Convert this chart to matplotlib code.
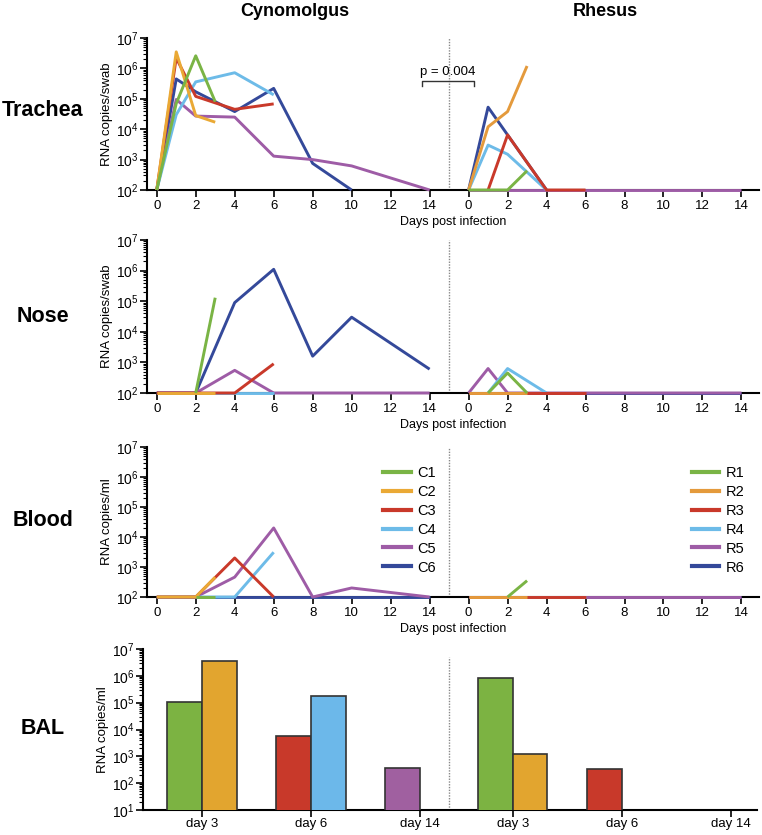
import numpy as np
import matplotlib
matplotlib.use('Agg')
import matplotlib.pyplot as plt
from matplotlib.ticker import FixedLocator, NullFormatter, LogFormatterSciNotation
from matplotlib.lines import Line2D

plt.rcParams['font.family'] = ['Liberation Sans', 'DejaVu Sans']
plt.rcParams['mathtext.default'] = 'regular'

cyno_labels = ['C1', 'C2', 'C3', 'C4', 'C5', 'C6']
rhesus_labels = ['R1', 'R2', 'R3', 'R4', 'R5', 'R6']
cyno_colors = ['#7ab445', '#eaa935', '#c9392a', '#6dbbe8', '#9e5ca6', '#34499a']
rhesus_colors = ['#7ab445', '#e49a3c', '#c9392a', '#6dbbe8', '#9e5ca6', '#34499a']
day_ticks = [0, 2, 4, 6, 8, 10, 12, 14]

# Trachea swabs (RNA copies/swab)
trachea_cyno_days = [[0, 1, 2, 3], [0, 1, 2, 3], [0, 1, 2, 4, 6], [0, 1, 2, 4, 6],
                     [0, 1, 2, 4, 6, 8, 10, 14], [0, 1, 2, 4, 6, 8, 10]]
trachea_cyno_vals = [[1e2, 7e4, 2.6e6, 8e4], [1e2, 3.5e6, 2.8e4, 1.7e4],
                     [1e2, 2.2e6, 1.2e5, 4.5e4, 6.8e4], [1e2, 3e4, 3.6e5, 7.2e5, 1.35e5],
                     [1e2, 9.5e4, 2.7e4, 2.5e4, 1.3e3, 1e3, 6.2e2, 1e2],
                     [1e2, 4.5e5, 1.7e5, 3.8e4, 2.2e5, 7.5e2, 1e2]]
trachea_rh_days = [[0, 1, 2, 3], [0, 1, 2, 3], [1, 2, 4, 6], [0, 1, 2, 4],
                   [0, 2, 4, 6, 8, 10, 12, 14], [0, 1, 2, 4]]
trachea_rh_vals = [[1e2, 1e2, 1e2, 4.3e2], [1e2, 1.2e4, 3.8e4, 1.2e6], [1e2, 6.5e3, 1e2, 1e2],
                   [1e2, 3e3, 1.5e3, 1e2], [1e2] * 8, [1e2, 5.3e4, 6.5e3, 1e2]]

# Nose swabs (RNA copies/swab)
nose_cyno_days = [[2, 3], [0, 1, 2, 3], [0, 2, 4, 6], [0, 2, 4, 6],
                  [0, 2, 4, 6, 8, 10, 14], [0, 2, 4, 6, 8, 10, 14]]
nose_cyno_vals = [[1e2, 1.3e5], [1e2] * 4, [1e2, 1e2, 1e2, 9e2], [1e2] * 4,
                  [1e2, 1e2, 5.5e2, 1e2, 1e2, 1e2, 1e2],
                  [1e2, 1e2, 9e4, 1.1e6, 1.6e3, 3e4, 6e2]]
nose_rh_days = [[1, 2, 3], [0, 1, 2, 3], [0, 2, 4, 6], [1, 2, 4],
                [0, 1, 2, 4, 6, 8, 10, 12, 14], [0, 2, 4, 6, 8, 10, 12, 14]]
nose_rh_vals = [[1e2, 4.5e2, 1e2], [1e2] * 4, [1e2] * 4, [1e2, 6.3e2, 1e2],
                [1e2, 6.3e2, 1e2, 1e2, 1e2, 1e2, 1e2, 1e2, 1e2], [1e2] * 8]

# Blood (RNA copies/ml)
blood_cyno_days = [[2, 3], [0, 2, 3], [0, 2, 4, 6], [0, 2, 4, 6],
                   [0, 2, 4, 6, 8, 10, 14], [0, 2, 4, 6, 8, 10, 12, 14]]
blood_cyno_vals = [[1e2, 1e2], [1e2, 1e2, 4.6e2], [1e2, 1e2, 2e3, 1e2], [1e2, 1e2, 1e2, 3.1e3],
                   [1e2, 1e2, 4.6e2, 2e4, 1e2, 2e2, 1e2], [1e2] * 8]
blood_rh_days = [[2, 3], [0, 2, 3], [0, 2, 4, 6], [0, 2, 4, 6],
                 [0, 2, 4, 6, 8, 10, 12, 14], [0, 2, 4, 6, 8, 10, 12, 14]]
blood_rh_vals = [[1e2, 3.5e2], [1e2] * 3, [1e2] * 4, [1e2] * 4, [1e2] * 8, [1e2] * 8]

# BAL (RNA copies/ml), one bar per animal sampled
bal_groups = ['day 3', 'day 6', 'day 14']
bal_cyno_group = [0, 0, 1, 1, 2]
bal_cyno_animal = [0, 1, 2, 3, 4]
bal_cyno_vals = [1.1e5, 3.7e6, 5.7e3, 1.8e5, 3.8e2]
bal_rh_group = [0, 0, 1]
bal_rh_animal = [0, 1, 2]
bal_rh_vals = [8.5e5, 1.2e3, 3.5e2]
bar_colors = ['#7cb342', '#e2a52f', '#c8392a', '#6cb8ea', '#a060a0', '#34499a']

RH_OFFSET = 16
W_PX, H_PX = 762, 835


def fig_rect(left, top, right, bottom):
    return [left / W_PX, 1 - bottom / H_PX, (right - left) / W_PX, (bottom - top) / H_PX]


def style_log_axis(ax, low_exp, ylabel):
    ax.set_yscale('log')
    ax.set_ylim(10.0 ** low_exp, 1e7)
    decades = 10.0 ** np.arange(low_exp, 8)
    minors = [d * m for d in decades[:-1] for m in range(2, 10)]
    ax.yaxis.set_major_locator(FixedLocator(decades))
    ax.yaxis.set_minor_locator(FixedLocator(minors))
    ax.yaxis.set_major_formatter(LogFormatterSciNotation())
    ax.yaxis.set_minor_formatter(NullFormatter())
    ax.tick_params(axis='y', which='major', length=5, width=1.2, labelsize=10, pad=1)
    ax.tick_params(axis='y', which='minor', length=3, width=0.8)
    ax.tick_params(axis='x', length=5, width=1.2, labelsize=9.5, pad=2)
    for s in ['top', 'right']:
        ax.spines[s].set_visible(False)
    ax.spines['left'].set_linewidth(1.5)
    ax.spines['bottom'].set_linewidth(1.5)
    ax.set_ylabel(ylabel, fontsize=9.5, labelpad=2)


def line_panel(rect, c_days, c_vals, r_days, r_vals, ylabel):
    ax = fig.add_axes(fig_rect(*rect))
    for i in reversed(range(6)):
        z = 3 + (6 - i) * 0.1
        ax.plot(np.asarray(r_days[i]) + RH_OFFSET, r_vals[i], color=rhesus_colors[i], lw=2.1,
                solid_capstyle='butt', clip_on=False, zorder=z)
        ax.plot(c_days[i], c_vals[i], color=cyno_colors[i], lw=2.1,
                solid_capstyle='butt', clip_on=False, zorder=z)
    ax.set_xlim(-0.5, 30.9)
    style_log_axis(ax, 2, ylabel)
    ticks = day_ticks + [d + RH_OFFSET for d in day_ticks]
    ax.set_xticks(ticks)
    ax.set_xticklabels([str(d) for d in day_ticks] * 2)
    ax.set_xlabel('Days post infection', fontsize=9, labelpad=3)
    ax.axvline(15, color='#888888', lw=1, ls=(0, (1, 1)), zorder=1)
    return ax


fig = plt.figure(figsize=(W_PX / 100, H_PX / 100), dpi=100)

ax1 = line_panel((147, 38, 759, 190), trachea_cyno_days, trachea_cyno_vals,
                 trachea_rh_days, trachea_rh_vals, 'RNA copies/swab')
ax1.plot([13.6, 13.6, 16.3, 16.3], [2.6e5, 3.9e5, 3.9e5, 2.6e5], color='#333333', lw=1)
ax1.text(14.95, 7.5e5, 'p = 0.004', ha='center', va='center', fontsize=9.5)

ax2 = line_panel((147, 240, 759, 393), nose_cyno_days, nose_cyno_vals,
                 nose_rh_days, nose_rh_vals, 'RNA copies/swab')
ax3 = line_panel((147, 447, 759, 597), blood_cyno_days, blood_cyno_vals,
                 blood_rh_days, blood_rh_vals, 'RNA copies/ml')

c_handles = [Line2D([], [], color=c, lw=3) for c in cyno_colors]
r_handles = [Line2D([], [], color=c, lw=3) for c in rhesus_colors]
leg_kw = dict(loc='upper left', frameon=False, fontsize=10.5, handlelength=1.9,
              handletextpad=0.45, labelspacing=0.34, borderpad=0, borderaxespad=0)
leg1 = ax3.legend(c_handles, cyno_labels, bbox_to_anchor=(0.386, 0.875), **leg_kw)
ax3.add_artist(leg1)
ax3.legend(r_handles, rhesus_labels, bbox_to_anchor=(0.89, 0.875), **leg_kw)

# BAL bars
ax4 = fig.add_axes(fig_rect(143, 649, 757, 810))
bw = 0.318
rh_shift = 2.85
for g, a, v in zip(bal_cyno_group, bal_cyno_animal, bal_cyno_vals):
    x = g + (-bw / 2 if a % 2 == 0 else bw / 2)
    ax4.bar(x, v, width=bw, color=bar_colors[a], edgecolor='#333333', linewidth=1.2, zorder=3)
for g, a, v in zip(bal_rh_group, bal_rh_animal, bal_rh_vals):
    x = rh_shift + g + (-bw / 2 if a % 2 == 0 else bw / 2)
    ax4.bar(x, v, width=bw, color=bar_colors[a], edgecolor='#333333', linewidth=1.2, zorder=3)
style_log_axis(ax4, 1, 'RNA copies/ml')
ax4.tick_params(axis='x', pad=1, labelsize=9.5)
ax4.set_xlim(-0.54, 5.09)
ax4.set_xticks([0, 1, 2, rh_shift, rh_shift + 1, rh_shift + 2])
ax4.set_xticklabels(bal_groups * 2)
ax4.axvline(2.266, ymax=0.95, color='#888888', lw=1, ls=(0, (1, 1)), zorder=1)

# titles and row labels
fig.text(295 / W_PX, 1 - 12 / H_PX, 'Cynomolgus', ha='center', va='center',
         fontsize=13, fontweight='bold')
fig.text(605 / W_PX, 1 - 12 / H_PX, 'Rhesus', ha='center', va='center',
         fontsize=13, fontweight='bold')
for name, y in [('Trachea', 111), ('Nose', 316), ('Blood', 520), ('BAL', 728)]:
    fig.text(43 / W_PX, 1 - y / H_PX, name, ha='center', va='center',
             fontsize=15.5, fontweight='bold')

fig.savefig('out.png', dpi=100)
